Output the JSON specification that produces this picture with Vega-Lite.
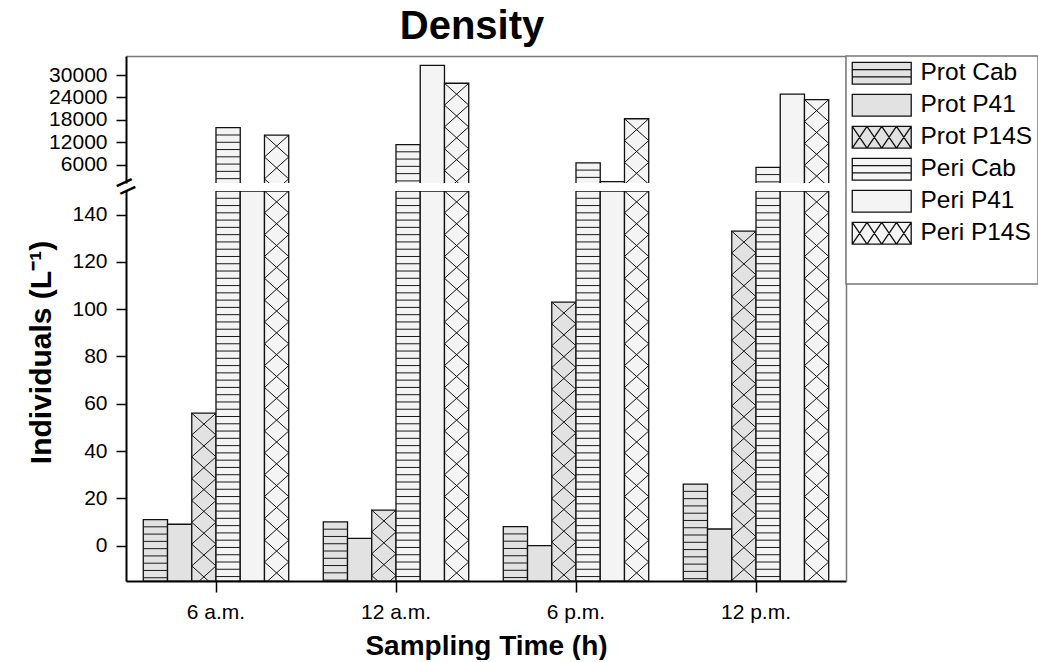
{
  "$schema": "https://vega.github.io/schema/vega-lite/v6.json",
  "background": "white",
  "padding": {"left": 26, "top": 7, "right": 0, "bottom": 0},
  "title": {"text": "Density", "fontSize": 40, "font": "Liberation Sans", "fontWeight": "bold", "color": "black", "anchor": "middle", "frame": "group", "offset": 8, "dx": -14},
  "datasets": {
    "d": [
      {"time": "6 a.m.", "series": "Prot Cab", "value": 11},
      {"time": "6 a.m.", "series": "Prot P41", "value": 9},
      {"time": "6 a.m.", "series": "Prot P14S", "value": 56},
      {"time": "6 a.m.", "series": "Peri Cab", "value": 15900},
      {"time": "6 a.m.", "series": "Peri P41", "value": 800},
      {"time": "6 a.m.", "series": "Peri P14S", "value": 13900},
      {"time": "12 a.m.", "series": "Prot Cab", "value": 10},
      {"time": "12 a.m.", "series": "Prot P41", "value": 3},
      {"time": "12 a.m.", "series": "Prot P14S", "value": 15},
      {"time": "12 a.m.", "series": "Peri Cab", "value": 11400},
      {"time": "12 a.m.", "series": "Peri P41", "value": 32600},
      {"time": "12 a.m.", "series": "Peri P14S", "value": 27800},
      {"time": "6 p.m.", "series": "Prot Cab", "value": 8},
      {"time": "6 p.m.", "series": "Prot P41", "value": 0},
      {"time": "6 p.m.", "series": "Prot P14S", "value": 103},
      {"time": "6 p.m.", "series": "Peri Cab", "value": 6500},
      {"time": "6 p.m.", "series": "Peri P41", "value": 1450},
      {"time": "6 p.m.", "series": "Peri P14S", "value": 18300},
      {"time": "12 p.m.", "series": "Prot Cab", "value": 26},
      {"time": "12 p.m.", "series": "Prot P41", "value": 7},
      {"time": "12 p.m.", "series": "Prot P14S", "value": 133},
      {"time": "12 p.m.", "series": "Peri Cab", "value": 5300},
      {"time": "12 p.m.", "series": "Peri P41", "value": 24900},
      {"time": "12 p.m.", "series": "Peri P14S", "value": 23400}
    ]
  },
  "spacing": 8,
  "bounds": "flush",
  "resolve": {"scale": {"x": "independent", "y": "independent", "fill": "shared", "shape": "shared"}},
  "vconcat": [
    {
      "width": 720,
      "height": 127,
      "data": {"name": "d"},
      "encoding": {
        "x": {"field": "time", "type": "nominal", "sort": ["6 a.m.", "12 a.m.", "6 p.m.", "12 p.m."], "scale": {"paddingInner": 0.192, "paddingOuter": 0.096}, "axis": {"orient": "top", "labels": false, "ticks": false, "title": null, "domainColor": "#777777", "domainWidth": 1.5}},
        "xOffset": {"field": "series", "type": "nominal", "sort": ["Prot Cab", "Prot P41", "Prot P14S", "Peri Cab", "Peri P41", "Peri P14S"]}
      },
      "layer": [
        {
          "mark": {"type": "bar", "clip": true, "stroke": "#111111", "strokeWidth": 1.3},
          "encoding": {
            "y": {"field": "value", "type": "quantitative", "scale": {"domain": [1100, 35100], "zero": false, "nice": false}, "axis": {"values": [6000, 12000, 18000, 24000, 30000], "format": "d", "title": null, "tickSize": 10, "tickWidth": 1.5, "domainWidth": 2, "labelFontSize": 21, "labelPadding": 9}},
            "y2": {"datum": 0},
            "fill": {"field": "series", "type": "nominal", "scale": {"domain": ["Prot Cab", "Prot P41", "Prot P14S", "Peri Cab", "Peri P41", "Peri P14S"], "range": ["#e2e2e2", "#e2e2e2", "#e2e2e2", "#f4f4f4", "#f4f4f4", "#f4f4f4"]}, "legend": {"title": " ", "titleOrient": "bottom", "titleFontSize": 20, "titlePadding": 12, "symbolStrokeColor": "#111111", "symbolStrokeWidth": 1.3, "encoding": {"symbols": {"stroke": {"value": "#111111"}, "strokeWidth": {"value": 1.3}, "strokeOpacity": {"value": 1}}}}}
          }
        },
        {
          "transform": [{"filter": "datum.series == 'Prot Cab' || datum.series == 'Peri Cab'"}],
          "mark": {"type": "point", "shape": "M-1,0.6H1M-1,1.2H1M-1,1.8H1M-1,2.4H1M-1,3H1M-1,3.6H1M-1,4.2H1M-1,4.8H1M-1,5.4H1M-1,6H1M-1,6.6H1M-1,7.2H1M-1,7.8H1M-1,8.4H1M-1,9H1M-1,9.6H1M-1,10.2H1M-1,10.8H1M-1,11.4H1M-1,12H1M-1,12.6H1M-1,13.2H1M-1,13.8H1M-1,14.4H1M-1,15H1M-1,15.6H1M-1,16.2H1M-1,16.8H1M-1,17.4H1M-1,18H1M-1,18.6H1M-1,19.2H1M-1,19.8H1M-1,20.4H1M-1,21H1M-1,21.6H1M-1,22.2H1M-1,22.8H1M-1,23.4H1M-1,24H1M-1,24.6H1M-1,25.2H1M-1,25.8H1M-1,26.4H1M-1,27H1M-1,27.6H1M-1,28.2H1M-1,28.8H1M-1,29.4H1M-1,30H1M-1,30.6H1M-1,31.2H1M-1,31.8H1M-1,32.4H1M-1,33H1M-1,33.6H1M-1,34.2H1M-1,34.8H1M-1,35.4H1M-1,36H1", "size": 588, "filled": false, "stroke": "#1a1a1a", "strokeWidth": 1, "opacity": 1, "clip": true},
          "encoding": {
            "y": {"field": "value", "type": "quantitative", "scale": {"domain": [1100, 35100], "zero": false, "nice": false}, "axis": {"orient": "right", "labels": false, "ticks": false, "title": null, "domainColor": "#777777", "domainWidth": 1.5}}
          }
        },
        {
          "transform": [{"filter": "datum.series == 'Prot P14S' || datum.series == 'Peri P14S'"}],
          "mark": {"type": "point", "shape": "M-1,0L1,1.8L-1,3.6L1,5.4L-1,7.2L1,9L-1,10.8L1,12.6L-1,14.4L1,16.2L-1,18L1,19.8L-1,21.6L1,23.4L-1,25.2L1,27L-1,28.8L1,30.6L-1,32.4L1,34.2L-1,36L1,37.8M1,0L-1,1.8L1,3.6L-1,5.4L1,7.2L-1,9L1,10.8L-1,12.6L1,14.4L-1,16.2L1,18L-1,19.8L1,21.6L-1,23.4L1,25.2L-1,27L1,28.8L-1,30.6L1,32.4L-1,34.2L1,36L-1,37.8", "size": 588, "filled": false, "stroke": "#111111", "strokeWidth": 1, "opacity": 1, "clip": true},
          "encoding": {
            "y": {"field": "value", "type": "quantitative", "scale": {"domain": [1100, 35100], "zero": false, "nice": false}, "axis": {"orient": "left", "values": [1100], "labelExpr": "'='", "labelAngle": -25, "labelAlign": "center", "labelBaseline": "middle", "labelFontSize": 34, "labelPadding": 0, "labelOffset": 4, "ticks": false, "tickSize": 0, "domain": false, "title": null}}
          }
        },
        {
          "transform": [{"filter": "false"}],
          "mark": {"type": "point", "filled": true, "opacity": 1, "stroke": "#111111", "strokeWidth": 1.3},
          "encoding": {
            "fill": {"field": "series", "type": "nominal", "scale": {"domain": ["Prot Cab", "Prot P41", "Prot P14S", "Peri Cab", "Peri P41", "Peri P14S"], "range": ["#e2e2e2", "#e2e2e2", "#e2e2e2", "#f4f4f4", "#f4f4f4", "#f4f4f4"]}, "legend": {"title": " ", "titleOrient": "bottom", "titleFontSize": 20, "titlePadding": 12, "symbolStrokeColor": "#111111", "symbolStrokeWidth": 1.3, "encoding": {"symbols": {"stroke": {"value": "#111111"}, "strokeWidth": {"value": 1.3}, "strokeOpacity": {"value": 1}}}}},
            "shape": {"field": "series", "type": "nominal", "scale": {"domain": ["Prot Cab", "Prot P41", "Prot P14S", "Peri Cab", "Peri P41", "Peri P14S"], "range": [
              "M-1,-0.98H4.36V0.98H-1ZM-1,-0.33H4.36M-1,0.33H4.36",
              "M-1,-0.98H4.36V0.98H-1Z",
              "M-1,-0.98H4.36V0.98H-1ZM-1,-0.98L0.34,0.98M0.34,-0.98L-1,0.98M0.34,-0.98L1.68,0.98M1.68,-0.98L0.34,0.98M1.68,-0.98L3.02,0.98M3.02,-0.98L1.68,0.98M3.02,-0.98L4.36,0.98M4.36,-0.98L3.02,0.98",
              "M-1,-0.98H4.36V0.98H-1ZM-1,-0.33H4.36M-1,0.33H4.36",
              "M-1,-0.98H4.36V0.98H-1Z",
              "M-1,-0.98H4.36V0.98H-1ZM-1,-0.98L0.34,0.98M0.34,-0.98L-1,0.98M0.34,-0.98L1.68,0.98M1.68,-0.98L0.34,0.98M1.68,-0.98L3.02,0.98M3.02,-0.98L1.68,0.98M3.02,-0.98L4.36,0.98M4.36,-0.98L3.02,0.98"
            ]}, "legend": {"title": " ", "titleOrient": "bottom", "titleFontSize": 20, "titlePadding": 12, "symbolStrokeColor": "#111111", "symbolStrokeWidth": 1.3, "encoding": {"symbols": {"stroke": {"value": "#111111"}, "strokeWidth": {"value": 1.3}, "strokeOpacity": {"value": 1}}}}}
          }
        }
      ],
      "resolve": {"axis": {"y": "independent"}}
    },
    {
      "width": 720,
      "height": 390,
      "data": {"name": "d"},
      "encoding": {
        "x": {"field": "time", "type": "nominal", "sort": ["6 a.m.", "12 a.m.", "6 p.m.", "12 p.m."], "scale": {"paddingInner": 0.192, "paddingOuter": 0.096}, "axis": {"orient": "bottom", "labelAngle": 0, "labelFontSize": 21, "tickSize": 11, "tickWidth": 1.5, "domainWidth": 2, "labelPadding": 9, "title": "Sampling Time (h)", "titleFontSize": 28, "titleFontWeight": "bold", "titlePadding": 10}},
        "xOffset": {"field": "series", "type": "nominal", "sort": ["Prot Cab", "Prot P41", "Prot P14S", "Peri Cab", "Peri P41", "Peri P14S"]}
      },
      "layer": [
        {
          "mark": {"type": "bar", "clip": true, "stroke": "#111111", "strokeWidth": 1.3},
          "encoding": {
            "y": {"field": "value", "type": "quantitative", "scale": {"domain": [-15, 150], "zero": false, "nice": false, "clamp": true}, "axis": {"values": [0, 20, 40, 60, 80, 100, 120, 140], "title": "Individuals (L⁻¹)", "titleFontSize": 30, "titleFontWeight": "bold", "titleAngle": -90, "titleAlign": "center", "titleBaseline": "alphabetic", "titleX": -76, "titleY": 161, "tickSize": 10, "tickWidth": 1.5, "domainWidth": 2, "labelFontSize": 21, "labelPadding": 9}},
            "y2": {"datum": -15},
            "fill": {"field": "series", "type": "nominal", "scale": {"domain": ["Prot Cab", "Prot P41", "Prot P14S", "Peri Cab", "Peri P41", "Peri P14S"], "range": ["#e2e2e2", "#e2e2e2", "#e2e2e2", "#f4f4f4", "#f4f4f4", "#f4f4f4"]}, "legend": {"title": " ", "titleOrient": "bottom", "titleFontSize": 20, "titlePadding": 12, "symbolStrokeColor": "#111111", "symbolStrokeWidth": 1.3, "encoding": {"symbols": {"stroke": {"value": "#111111"}, "strokeWidth": {"value": 1.3}, "strokeOpacity": {"value": 1}}}}}
          }
        },
        {
          "transform": [{"filter": "datum.series == 'Prot Cab' || datum.series == 'Peri Cab'"}],
          "mark": {"type": "point", "shape": "M-1,0.6H1M-1,1.2H1M-1,1.8H1M-1,2.4H1M-1,3H1M-1,3.6H1M-1,4.2H1M-1,4.8H1M-1,5.4H1M-1,6H1M-1,6.6H1M-1,7.2H1M-1,7.8H1M-1,8.4H1M-1,9H1M-1,9.6H1M-1,10.2H1M-1,10.8H1M-1,11.4H1M-1,12H1M-1,12.6H1M-1,13.2H1M-1,13.8H1M-1,14.4H1M-1,15H1M-1,15.6H1M-1,16.2H1M-1,16.8H1M-1,17.4H1M-1,18H1M-1,18.6H1M-1,19.2H1M-1,19.8H1M-1,20.4H1M-1,21H1M-1,21.6H1M-1,22.2H1M-1,22.8H1M-1,23.4H1M-1,24H1M-1,24.6H1M-1,25.2H1M-1,25.8H1M-1,26.4H1M-1,27H1M-1,27.6H1M-1,28.2H1M-1,28.8H1M-1,29.4H1M-1,30H1M-1,30.6H1M-1,31.2H1M-1,31.8H1M-1,32.4H1M-1,33H1M-1,33.6H1M-1,34.2H1M-1,34.8H1M-1,35.4H1M-1,36H1", "size": 588, "filled": false, "stroke": "#1a1a1a", "strokeWidth": 1, "opacity": 1, "clip": true},
          "encoding": {
            "y": {"field": "value", "type": "quantitative", "scale": {"domain": [-15, 150], "zero": false, "nice": false, "clamp": true}, "axis": {"orient": "right", "labels": false, "ticks": false, "title": null, "domainColor": "#777777", "domainWidth": 1.5}}
          }
        },
        {
          "transform": [{"filter": "datum.series == 'Prot P14S' || datum.series == 'Peri P14S'"}],
          "mark": {"type": "point", "shape": "M-1,0L1,1.8L-1,3.6L1,5.4L-1,7.2L1,9L-1,10.8L1,12.6L-1,14.4L1,16.2L-1,18L1,19.8L-1,21.6L1,23.4L-1,25.2L1,27L-1,28.8L1,30.6L-1,32.4L1,34.2L-1,36L1,37.8M1,0L-1,1.8L1,3.6L-1,5.4L1,7.2L-1,9L1,10.8L-1,12.6L1,14.4L-1,16.2L1,18L-1,19.8L1,21.6L-1,23.4L1,25.2L-1,27L1,28.8L-1,30.6L1,32.4L-1,34.2L1,36L-1,37.8", "size": 588, "filled": false, "stroke": "#111111", "strokeWidth": 1, "opacity": 1, "clip": true},
          "encoding": {
            "y": {"field": "value", "type": "quantitative", "scale": {"domain": [-15, 150], "zero": false, "nice": false, "clamp": true}, "axis": null}
          }
        }
      ],
      "resolve": {"axis": {"y": "independent"}}
    }
  ],
  "config": {
    "font": "Liberation Sans",
    "view": {"stroke": null},
    "axis": {"grid": false, "domainColor": "black", "tickColor": "black", "labelColor": "black", "titleColor": "black", "labelFont": "Liberation Sans", "titleFont": "Liberation Sans"},
    "legend": {"orient": "right", "offset": 0, "padding": 5, "strokeColor": "#777777", "strokeWidth": 1.5, "fillColor": "white", "labelFont": "Liberation Sans", "labelFontSize": 24.5, "labelColor": "black", "labelOffset": 45, "rowPadding": 4, "symbolSize": 484, "symbolStrokeColor": "#111111", "symbolStrokeWidth": 1.3, "symbolOpacity": 1}
  }
}
